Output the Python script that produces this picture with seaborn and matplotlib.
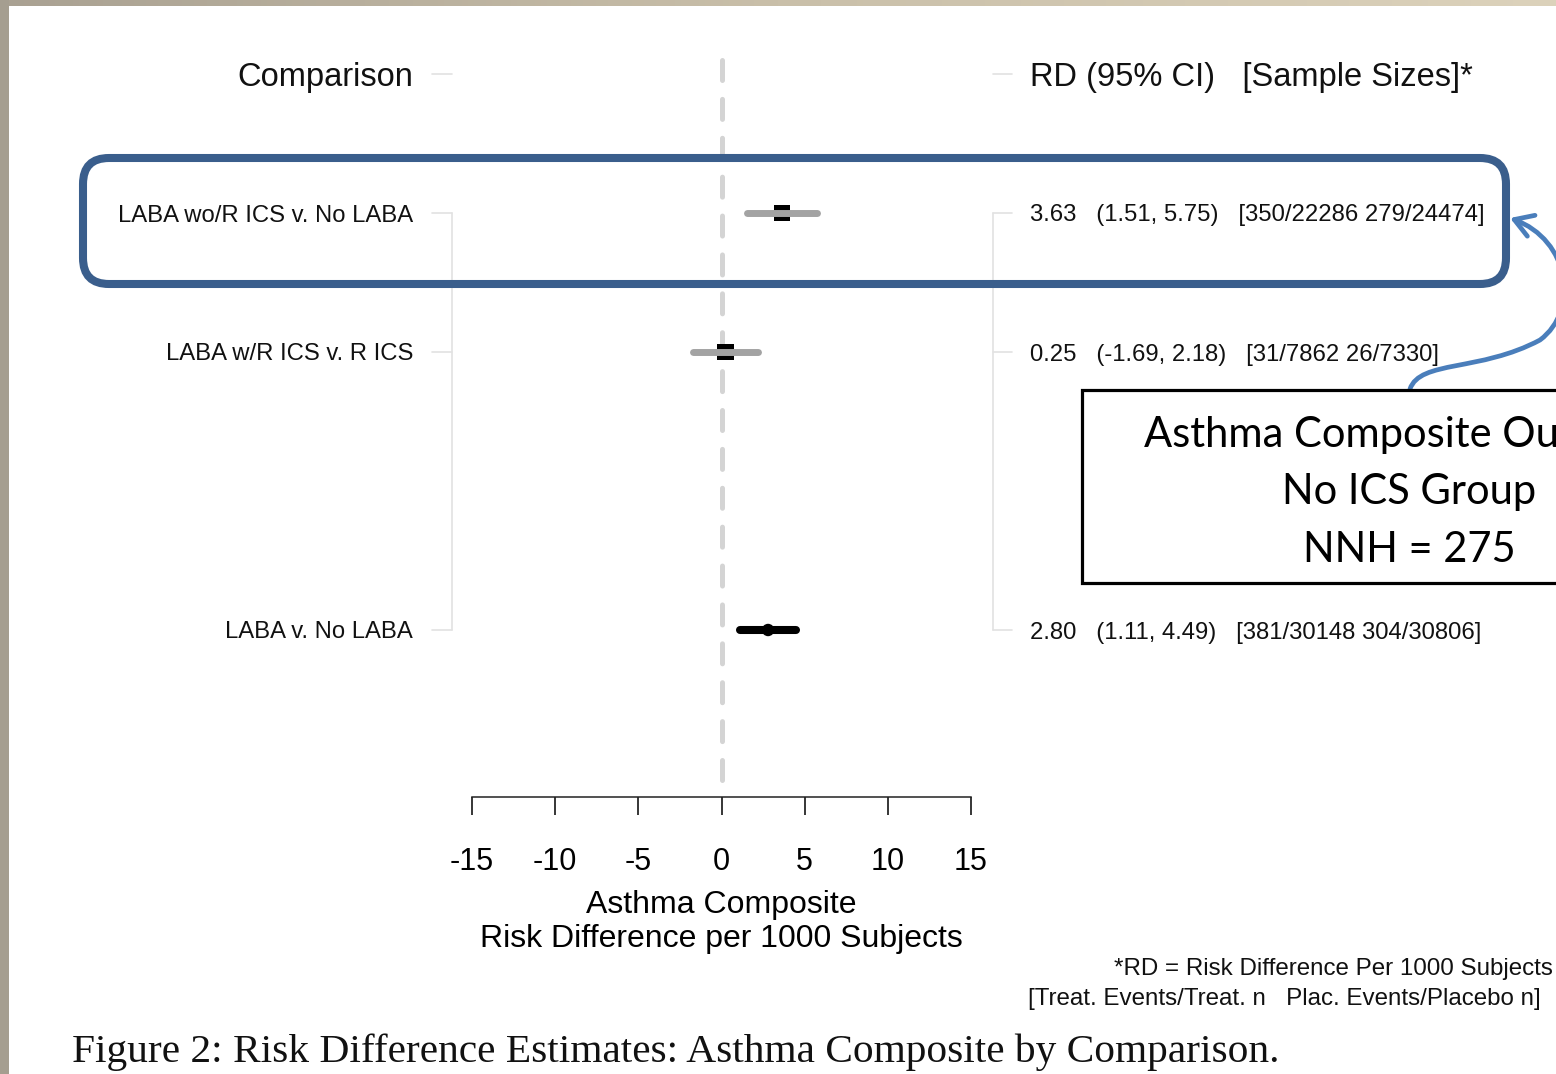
import numpy as np
import pandas as pd
import matplotlib
matplotlib.use("Agg")
import matplotlib.pyplot as plt
import matplotlib.transforms as mtransforms
from matplotlib.patches import FancyBboxPatch, Rectangle, FancyArrowPatch
from matplotlib.path import Path
from matplotlib.colors import LinearSegmentedColormap
import seaborn as sns

# ---------------- data ----------------
comparisons = ["LABA wo/R ICS v. No LABA", "LABA w/R ICS v. R ICS", "LABA v. No LABA"]
rd = [3.63, 0.25, 2.80]
ci_low = [1.51, -1.69, 1.11]
ci_high = [5.75, 2.18, 4.49]
treat_events = [350, 31, 381]
treat_n = [22286, 7862, 30148]
plac_events = [279, 26, 304]
plac_n = [24474, 7330, 30806]
is_summary = [False, False, True]
x_ticks = [-15, -10, -5, 0, 5, 10, 15]

header_left = "Comparison"
header_right = "RD (95% CI)   [Sample Sizes]*"
x_label = "Asthma Composite\nRisk Difference per 1000 Subjects"
foot1 = "*RD = Risk Difference Per 1000 Subjects"
foot2 = "[Treat. Events/Treat. n   Plac. Events/Placebo n]"
box_lines = ["Asthma Composite Outcome", "No ICS Group", "NNH = 275"]
caption = "Figure 2: Risk Difference Estimates: Asthma Composite by Comparison."

# ---------------- style ----------------
sns.set_theme(style="white")
plt.rcParams["font.family"] = ["Liberation Sans", "DejaVu Sans"]
plt.rcParams["lines.scale_dashes"] = False

W, H = 1556, 1074
fig = plt.figure(figsize=(W / 100, H / 100), dpi=100)
fig.patch.set_facecolor("white")

# layout in pixels
row_px, header_px, top_px, axis_px = 139, 74, 40, 797
x_left_px, x_right_px = 472, 971

# row positions: study rows consecutive, summary row after a blank row
pos = []
p = 0
for s in is_summary:
    p += 2 if s else 1
    pos.append(p)

df = pd.DataFrame({
    "comparison": comparisons, "rd": rd, "lo": ci_low, "hi": ci_high,
    "pos": pos, "kind": ["summary" if s else "study" for s in is_summary],
})

ax = fig.add_axes([x_left_px / W, 1 - axis_px / H,
                   (x_right_px - x_left_px) / W, (axis_px - top_px) / H])
ax.set_facecolor("white")
ax.set_xlim(x_ticks[0], x_ticks[-1])
ylim = ((axis_px - header_px) / row_px, (top_px - header_px) / row_px)
ax.set_ylim(*ylim)

# overlay axes in pixel coordinates
ov = fig.add_axes([0, 0, 1, 1], zorder=5)
ov.set_xlim(0, W)
ov.set_ylim(H, 0)
ov.axis("off")

# background strips (slide frame)
grad = np.linspace(0, 1, 256)[None, :]
cm = LinearSegmentedColormap.from_list("frame", ["#a9a192", "#c9bfa9", "#dcd2bb"])
ov.imshow(grad, cmap=cm, extent=[0, W, 6, 0], aspect="auto", zorder=0)
ov.add_patch(Rectangle((0, 0), 9, H, facecolor="#a59e90", edgecolor="none", zorder=1))

# zero reference line
ax.plot([0, 0], [(60 - header_px) / row_px, (axis_px - header_px) / row_px],
        color="#d4d4d4", lw=3.6, dashes=(14.4, 13.6), dash_capstyle="round",
        solid_capstyle="round", zorder=1)

# CI lines
for _, r in df.iterrows():
    if r["kind"] == "summary":
        ax.plot([r["lo"], r["hi"]], [r["pos"], r["pos"]], color="black", lw=5.8,
                solid_capstyle="round", zorder=3)
    else:
        ax.plot([r["lo"], r["hi"]], [r["pos"], r["pos"]], color="#a3a3a3", lw=5.0,
                solid_capstyle="round", zorder=3)

# point estimates
sns.scatterplot(data=df, x="rd", y="pos", style="kind", hue="kind", size="kind",
                markers={"study": "s", "summary": "o"},
                palette={"study": "black", "summary": "black"},
                sizes={"study": 140, "summary": 80},
                linewidth=0, legend=False, ax=ax, zorder=2)

ax.set_ylim(*ylim)
ax.set_ylabel("")
ax.set_yticks([])
ax.set_xticks(x_ticks)
ax.set_xticklabels([str(t) for t in x_ticks])
ax.tick_params(axis="x", direction="out", length=13, width=1.1, pad=23,
               labelsize=22, colors="black", bottom=True)
for s in ["left", "right", "top"]:
    ax.spines[s].set_visible(False)
ax.spines["bottom"].set_color("#222222")
ax.spines["bottom"].set_linewidth(1.1)
ax.set_xlabel(x_label, fontsize=23, labelpad=9, color="black", linespacing=1.2)

# bracket lines and text columns
trans = mtransforms.blended_transform_factory(ov.transData, ax.transData)
bc = "#e2e2e2"
for y in [0] + pos:
    ax.plot([432, 452], [y, y], color=bc, lw=1.2, transform=trans, clip_on=False)
    ax.plot([993, 1012], [y, y], color=bc, lw=1.2, transform=trans, clip_on=False)
ax.plot([452, 452], [pos[0], pos[-1]], color=bc, lw=1.2, transform=trans, clip_on=False)
ax.plot([993, 993], [pos[0], pos[-1]], color=bc, lw=1.2, transform=trans, clip_on=False)

ax.text(413, 0, header_left, transform=trans, ha="right", va="center_baseline",
        fontsize=23.5, color="#111111")
ax.text(1030, 0, header_right, transform=trans, ha="left", va="center_baseline",
        fontsize=23.5, color="#111111")
for _, r in df.iterrows():
    ax.text(413, r["pos"], r["comparison"], transform=trans, ha="right",
            va="center_baseline", fontsize=17.2, color="#111111")
for i in range(len(comparisons)):
    s = f"{rd[i]:.2f}   ({ci_low[i]:.2f}, {ci_high[i]:.2f})   [{treat_events[i]}/{treat_n[i]} {plac_events[i]}/{plac_n[i]}]"
    ax.text(1030, pos[i], s, transform=trans, ha="left", va="center_baseline",
            fontsize=17.2, color="#111111")

# footnotes
ov.text(1553, 967, foot1, ha="right", va="center_baseline", fontsize=17.4, color="#111111")
ov.text(1541, 996, foot2, ha="right", va="center_baseline", fontsize=17.4, color="#111111")

# caption
ov.text(72, 1062, caption, ha="left", va="baseline", fontsize=29.8,
        family=["Liberation Serif", "DejaVu Serif"], color="#111111")

# highlight box
ov.add_patch(FancyBboxPatch((83, 158), 1506 - 83, 284 - 158,
                            boxstyle="round,pad=0,rounding_size=26",
                            fill=False, edgecolor="#3a5e8c", lw=5.8, zorder=6))

# callout arrow
verts = [(1410, 389), (1420, 360), (1480, 372), (1540, 340),
         (1580, 310), (1570, 240), (1510, 218)]
codes = [Path.MOVETO, Path.CURVE4, Path.CURVE4, Path.CURVE4,
         Path.CURVE4, Path.CURVE4, Path.CURVE4]
arr = FancyArrowPatch(path=Path(verts, codes), arrowstyle="->,head_length=13,head_width=8",
                      color="#4a7ebb", lw=3.4, zorder=6)
ov.add_patch(arr)

# callout text box
ov.add_patch(Rectangle((1082, 390), 800, 193, facecolor="white", edgecolor="black",
                       lw=2.3, zorder=7))
for yb, t in zip([447, 504, 562], box_lines):
    ov.text(1409, yb, t, ha="center", va="baseline", fontsize=30,
            family=["Lato", "DejaVu Sans"], color="black", zorder=8)

fig.savefig("out.png", dpi=100, facecolor="white")
